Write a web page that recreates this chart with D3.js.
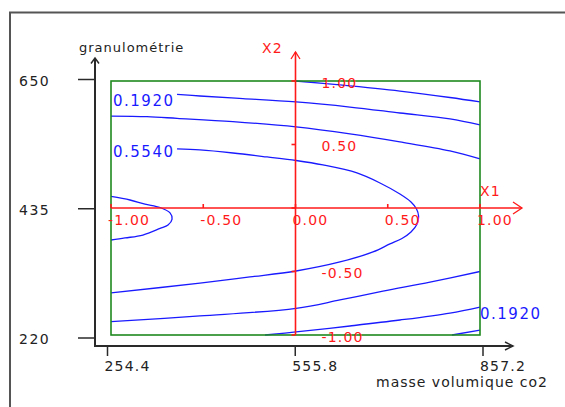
<!DOCTYPE html>
<html><head><meta charset="utf-8">
<script src="https://cdn.jsdelivr.net/npm/d3@7"></script>
<style>
html,body{margin:0;padding:0;background:#fff;overflow:hidden}
svg{display:block}
text{font-family:"DejaVu Sans",Verdana,sans-serif}
</style></head><body>
<svg id="chart" width="565" height="407"></svg>
<script>
// ---- data ----
const xTickValues = [254.4, 555.8, 857.2];
const yTickValues = [220, 435, 650];
const codedTicks = [-1, -0.5, 0, 0.5, 1];
const codedTicksX2Labels = [-1, -0.5, 0.5, 1];
const xAxisTitle = "masse volumique co2";
const yAxisTitle = "granulométrie";
const codedAxisNames = ["X1", "X2"];

// contour lines in coded units [X1, X2]
const contourTopA = [[0.0,1.0],[0.241,0.969],[0.566,0.921],[0.837,0.870],[1.0,0.835]];
const contourTopB = [[-0.642,0.895],[-0.518,0.882],[-0.285,0.862],[0.003,0.835],[0.295,0.795],[0.566,0.748],[0.837,0.701],[1.0,0.654]];
const contourTopC = [[-1.0,0.724],[-0.805,0.719],[-0.642,0.706],[-0.339,0.680],[0.003,0.638],[0.295,0.583],[0.566,0.520],[0.837,0.449],[1.0,0.386]];
const contourArc = [[-0.642,0.465],[-0.518,0.457],[-0.339,0.433],[-0.154,0.402],[0.003,0.374],[0.149,0.339],[0.333,0.276],[0.458,0.197],[0.566,0.110],[0.626,0.047],[0.656,-0.008],[0.667,-0.063],[0.659,-0.126],[0.626,-0.189],[0.577,-0.240],[0.512,-0.283],[0.420,-0.346],[0.241,-0.425],[0.003,-0.496],[-0.247,-0.543],[-0.518,-0.591],[-1.0,-0.669]];
const contourLeftLoop = [[-1.0,0.091],[-0.897,0.063],[-0.816,0.031],[-0.734,0.004],[-0.680,-0.039],[-0.669,-0.087],[-0.691,-0.134],[-0.734,-0.161],[-0.827,-0.213],[-0.924,-0.236],[-1.0,-0.252]];
const contourBottomC = [[-1.0,-0.894],[-0.518,-0.850],[0.003,-0.790],[0.241,-0.724],[0.474,-0.654],[0.729,-0.583],[1.0,-0.500]];
const contourBottomB = [[-0.165,-1.0],[0.003,-0.976],[0.295,-0.929],[0.566,-0.882],[0.837,-0.827],[1.0,-0.780]];
const contourBottomA = [[0.848,-1.0],[1.0,-0.961]];
const contourLines = [contourTopA, contourTopB, contourTopC, contourArc, contourLeftLoop, contourBottomC, contourBottomB, contourBottomA];

// contour labels: [text, X1, X2]
const contourLabels = [["0.1920", -1, 0.803], ["0.5540", -1, 0.402], ["0.1920", 1, -0.874]];

// ---- drawing ----
const svg = d3.select("#chart");
const RED = "#ff1a1a", BLUE = "#1a1aff", GREEN = "#1e8a1e", DARK = "#2a2a2a";
const FONT = '"DejaVu Sans",Verdana,sans-serif';
const locale = d3.formatLocale({decimal: ".", thousands: ",", grouping: [3], currency: ["", ""], minus: "-"});

const sx = d3.scaleLinear().domain([254.4, 857.2]).range([107, 482.5]);
const sy = d3.scaleLinear().domain([220, 650]).range([337.5, 79]);
const cx = d3.scaleLinear().domain([-1, 1]).range([111, 480]);
const cy = d3.scaleLinear().domain([-1, 1]).range([335, 81]);

// outer frame
svg.append("rect").attr("x", 10).attr("y", 12.5).attr("width", 620).attr("height", 460)
  .attr("fill", "none").attr("stroke", "#555").attr("stroke-width", 2);

const axX0 = 95, axY0 = 346;

// black y axis
const gy = svg.append("g").attr("transform", `translate(${axX0},0)`)
  .call(d3.axisLeft(sy).tickValues(yTickValues).tickSize(17).tickFormat(locale.format("d")));
gy.select(".domain").remove();
gy.selectAll(".tick line").attr("stroke", DARK).attr("stroke-width", 1.5);
gy.selectAll(".tick text").attr("x", -76).attr("dy", 6).attr("text-anchor", "start")
  .attr("fill", "#222").style("font-size", "14px").style("letter-spacing", "1.5px")
  .style("font-family", FONT);

// black x axis
const gx = svg.append("g").attr("transform", `translate(0,${axY0})`)
  .call(d3.axisBottom(sx).tickValues(xTickValues).tickSize(10).tickFormat(locale.format(".1f")));
gx.select(".domain").remove();
gx.selectAll(".tick line").attr("stroke", DARK).attr("stroke-width", 1.5);
gx.selectAll(".tick text").attr("x", -3).attr("y", 24.5).attr("dy", null).attr("text-anchor", "start")
  .attr("fill", "#222").style("font-size", "14px").style("letter-spacing", "1.2px")
  .style("font-family", FONT);

const blk = svg.append("g").attr("stroke", DARK).attr("stroke-width", 2).attr("fill", "none");
blk.append("path").attr("d", `M${axX0},${axY0}V58`);
blk.append("path").attr("d", `M${axX0 - 1},${axY0}H513`);
blk.append("path").attr("stroke-width", 1.5).attr("d", `M91,63.5L${axX0},58L99,63.5`);
blk.append("path").attr("stroke-width", 1.5).attr("d", `M505,342L513,${axY0}L505,350`);

svg.append("text").attr("x", 79).attr("y", 51.5).text(yAxisTitle)
  .attr("fill", "#222").style("font-size", "13px").style("letter-spacing", "1px");
svg.append("text").attr("x", 376).attr("y", 386.5).text(xAxisTitle)
  .attr("fill", "#222").style("font-size", "14px").style("letter-spacing", "1px");

// blue contours
const line = d3.line().x(d => cx(d[0])).y(d => cy(d[1])).curve(d3.curveCatmullRom.alpha(0.5));
svg.append("g").selectAll("path").data(contourLines).join("path")
  .attr("d", line).attr("fill", "none").attr("stroke", BLUE).attr("stroke-width", 1.3);

// green frame of the coded domain
svg.append("rect").attr("x", cx(-1)).attr("y", cy(1))
  .attr("width", cx(1) - cx(-1)).attr("height", cy(-1) - cy(1))
  .attr("fill", "none").attr("stroke", GREEN).attr("stroke-width", 1.6);

// red coded axes
const red = svg.append("g").attr("stroke", RED).attr("stroke-width", 1.6).attr("fill", "none");
red.append("path").attr("d", `M${cx(-1)},${cy(0)}H522`);
red.append("path").attr("d", `M${cx(0)},${cy(-1)}V52`);
red.append("path").attr("stroke-width", 1.3).attr("d", `M513,${cy(0) - 6}L522,${cy(0)}L513,${cy(0) + 6}`);
red.append("path").attr("stroke-width", 1.3).attr("d", `M${cx(0) - 4.5},59L${cx(0)},52L${cx(0) + 4.5},59`);
red.selectAll(".tx").data(codedTicks).join("path").attr("class", "tx")
  .attr("d", d => `M${cx(d)},${cy(0)}v-4`);
red.selectAll(".ty").data(codedTicks).join("path").attr("class", "ty")
  .attr("d", d => `M${cx(0)},${cy(d)}h-4`);

const fmt = locale.format(".2f");
const redText = svg.append("g").attr("fill", RED).style("font-size", "14px").style("letter-spacing", "1.2px");
redText.selectAll(".lx").data(codedTicks).join("text").attr("class", "lx")
  .attr("x", d => cx(d) - 3).attr("y", cy(0) + 17).text(d => fmt(d));
redText.selectAll(".ly").data(codedTicksX2Labels).join("text").attr("class", "ly")
  .attr("x", cx(0) + 26).attr("y", d => cy(d) + 6.5).text(d => fmt(d));
redText.append("text").attr("x", 480).attr("y", 196).text(codedAxisNames[0]);
redText.append("text").attr("x", 262).attr("y", 53).text(codedAxisNames[1]);

// contour labels
svg.append("g").attr("fill", BLUE).style("font-size", "15px").style("letter-spacing", "1.5px")
  .selectAll("text").data(contourLabels).join("text")
  .attr("x", d => cx(d[1]) + (d[1] < 0 ? 2 : 0)).attr("y", d => cy(d[2])).text(d => d[0]);
</script>
</body></html>
